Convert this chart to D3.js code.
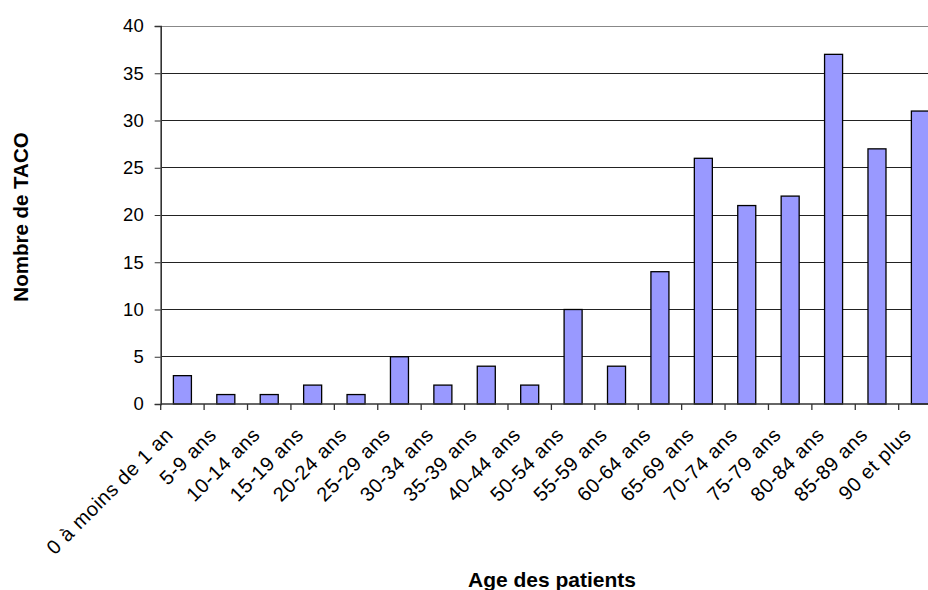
<!DOCTYPE html>
<html><head><meta charset="utf-8">
<script src="https://cdn.jsdelivr.net/npm/d3@7"></script>
<style>body{margin:0;background:#fff}svg{display:block}</style>
</head><body>
<script>
const categories = ["0 à moins de 1 an","5-9 ans","10-14 ans","15-19 ans","20-24 ans","25-29 ans","30-34 ans","35-39 ans","40-44 ans","50-54 ans","55-59 ans","60-64 ans","65-69 ans","70-74 ans","75-79 ans","80-84 ans","85-89 ans","90 et plus"];
const values = [3,1,1,2,1,5,2,4,2,10,4,14,26,21,22,37,27,31];
const yTicks = [0,5,10,15,20,25,30,35,40];
const yTitle = "Nombre de TACO";
const xTitle = "Age des patients";

const W = 928, H = 590;
const svg = d3.select("body").append("svg").attr("width", W).attr("height", H)
  .style("font-family", "Arial, 'Liberation Sans', sans-serif");

const x = d3.scaleBand().domain(categories).range([160.7, 942.1]).paddingInner(0.585).paddingOuter(0.2925);
const step = x.step();
const y = d3.scaleLinear().domain([0, 40]).range([404, 26]);

// gridlines
svg.append("g").selectAll("line").data(yTicks.filter(d => d > 0)).join("line")
  .attr("x1", 160.7).attr("x2", W).attr("y1", d => y(d)).attr("y2", d => y(d))
  .attr("stroke", d => d === 40 ? "#888" : "#222").attr("stroke-width", 1).attr("shape-rendering", "crispEdges");

// bars
svg.append("g").selectAll("rect").data(values).join("rect")
  .attr("x", (d, i) => x(categories[i]))
  .attr("width", x.bandwidth())
  .attr("y", d => y(d))
  .attr("height", d => y(0) - y(d))
  .attr("fill", "#9999FF").attr("stroke", "#000").attr("stroke-width", 1.3);

// y axis
const yAxis = svg.append("g").attr("transform", "translate(160.7,0)")
  .call(d3.axisLeft(y).tickValues(yTicks).tickSize(6).tickPadding(11));
yAxis.select(".domain").attr("stroke", "#333").attr("stroke-width", 1.6);
yAxis.selectAll(".tick line").attr("stroke", "#333");
yAxis.selectAll("text").attr("font-size", 18.5).attr("fill", "#000")
  .style("font-family", "Arial, 'Liberation Sans', sans-serif");

// x axis
const xAxisG = svg.append("g").attr("transform", "translate(0,404)");
xAxisG.append("line").attr("x1", 160.7).attr("x2", W).attr("y1", 0).attr("y2", 0)
  .attr("stroke", "#333").attr("stroke-width", 1.3);
xAxisG.selectAll("line.tk").data(d3.range(categories.length + 1)).join("line").attr("class", "tk")
  .attr("x1", i => 160.7 + i * step).attr("x2", i => 160.7 + i * step)
  .attr("y1", 0).attr("y2", 6).attr("stroke", "#333").attr("stroke-width", 1.3);
xAxisG.selectAll("text").data(categories).join("text")
  .attr("transform", d => `translate(${x(d) + x.bandwidth() / 2 - 8},32) rotate(-45)`)
  .attr("text-anchor", "end").attr("font-size", 20).attr("letter-spacing", 0.6).attr("fill", "#000")
  .text(d => d);

// titles
svg.append("text").attr("transform", "translate(27.5,217) rotate(-90)")
  .attr("text-anchor", "middle").attr("font-size", 20.5).attr("font-weight", "bold").text(yTitle);
svg.append("text").attr("x", 552).attr("y", 587)
  .attr("text-anchor", "middle").attr("font-size", 21).attr("font-weight", "bold").text(xTitle);
</script>
</body></html>
